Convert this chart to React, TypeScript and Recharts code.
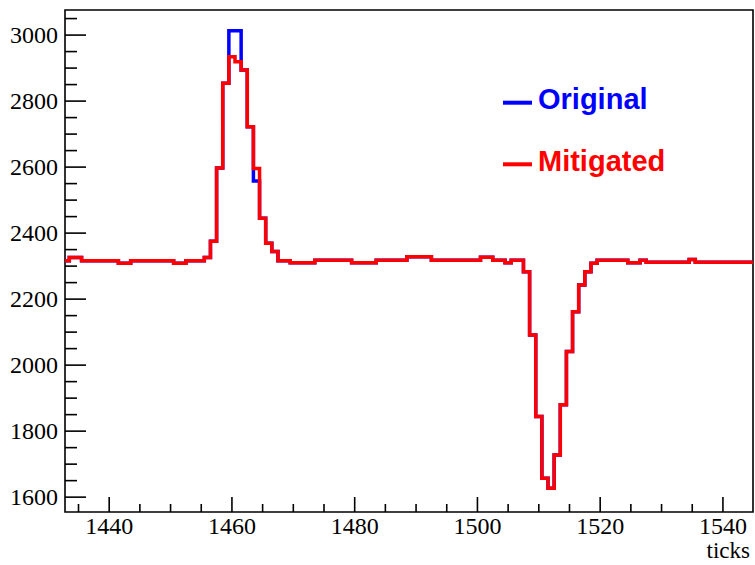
// @ts-nocheck
import React from 'react';
import { LineChart, Line, XAxis, YAxis, Legend, ReferenceArea } from 'recharts';

// histogram bins are 1 tick wide, centred on integers; first bin = 1433
const firstBin = 1433;

// Mitigated waveform, bins 1433 .. 1545
const mitigated = [
  2316, 2326, 2326, 2316, 2316, 2316, 2316,
  2316, 2316, 2309, 2309, 2316, 2316, 2316, 2316, 2316, 2316,
  2316, 2309, 2309, 2316, 2316, 2316, 2326, 2375, 2597, 2854,
  2934, 2919, 2894, 2722, 2596, 2445, 2369, 2344, 2316, 2316,
  2310, 2310, 2310, 2310, 2318, 2318, 2318, 2318, 2318, 2318,
  2310, 2310, 2310, 2310, 2318, 2318, 2318, 2318, 2318, 2328,
  2328, 2328, 2328, 2318, 2318, 2318, 2318, 2318, 2318, 2318,
  2318, 2327, 2327, 2318, 2318, 2310, 2318, 2318, 2283, 2091,
  1844, 1657, 1627, 1728, 1880, 2041, 2162, 2243, 2283, 2309,
  2318, 2318, 2318, 2318, 2318, 2310, 2310, 2318, 2312, 2312,
  2312, 2312, 2312, 2312, 2312, 2320, 2312, 2312, 2312, 2312,
  2312, 2312, 2312, 2312, 2312, 2312,
];

// Original only differs from Mitigated around the peak
const originalDiffs = { 1460: 3013, 1461: 3013, 1464: 2558 };
const original = mitigated.map((v, i) => originalDiffs[firstBin + i] ?? v);

const seriesNames = ['Original', 'Mitigated'];
const seriesColors = ['#0000ff', '#ff0000'];

const xMajor = [1440, 1460, 1480, 1500, 1520, 1540];
const yMajor = [1600, 1800, 2000, 2200, 2400, 2600, 2800, 3000];
const xTicks = Array.from({ length: 22 }, (_, i) => 1435 + i * 5);
const yTicks = Array.from({ length: 30 }, (_, i) => 1600 + i * 50);

const xDomain = [1432.8, 1544.9];
const yDomain = [1555, 3076];

// step points at the left bin edges, plus a closing point
const chartData = mitigated.map((m, i) => ({
  edge: firstBin + i - 0.5,
  Original: original[i],
  Mitigated: m,
}));
chartData.push({
  edge: firstBin + mitigated.length - 0.5,
  Original: original[original.length - 1],
  Mitigated: mitigated[mitigated.length - 1],
});

const serifStyle = { fontFamily: "'Liberation Serif', 'DejaVu Serif', serif", fontSize: 24 };
const sans = "'Liberation Sans', Arial, sans-serif";

const XTick = ({ x, y, payload }) => {
  const major = xMajor.includes(payload.value);
  return (
    <g>
      <line x1={x} x2={x} y1={y} y2={y - (major ? 15 : 8)} stroke="#000" strokeWidth={1.6} />
      {major && (
        <text x={x} y={y + 22} textAnchor="middle" style={serifStyle} fill="#000">
          {payload.value}
        </text>
      )}
    </g>
  );
};

const YTick = ({ x, y, payload }) => {
  const major = yMajor.includes(payload.value);
  return (
    <g>
      <line x1={x} x2={x + (major ? 21 : 12)} y1={y} y2={y} stroke="#000" strokeWidth={1.6} />
      {major && (
        <text x={x - 7} y={y + 8} textAnchor="end" style={serifStyle} fill="#000">
          {payload.value}
        </text>
      )}
    </g>
  );
};

const renderLegend = () => (
  <svg width={755} height={565} style={{ display: 'block' }}>
    {seriesNames.map((name, i) => {
      const y = 102.7 + i * 61.6;
      return (
        <g key={name}>
          <line x1={503} x2={532} y1={y} y2={y} stroke={seriesColors[i]} strokeWidth={4} />
          <text x={538} y={y + 6.3} fill={seriesColors[i]} style={{ fontFamily: sans, fontWeight: 'bold', fontSize: 29 }}>
            {name}
          </text>
        </g>
      );
    })}
    <text x={750} y={558} textAnchor="end" fill="#000" style={{ ...serifStyle, fontSize: 23 }}>
      ticks
    </text>
  </svg>
);

export default function App() {
  return (
    <div style={{ position: 'absolute', left: 0, top: 0, background: '#fff' }}>
      <LineChart width={755} height={565} data={chartData} margin={{ top: 10, right: 2, bottom: 0, left: 0 }}>
        <XAxis
          dataKey="edge"
          type="number"
          domain={xDomain}
          allowDataOverflow
          ticks={xTicks}
          interval={0}
          tick={XTick}
          tickLine={false}
          axisLine={false}
          tickSize={0}
          tickMargin={0}
          height={53}
        />
        <YAxis
          type="number"
          domain={yDomain}
          allowDataOverflow
          ticks={yTicks}
          interval={0}
          tick={YTick}
          tickLine={false}
          axisLine={false}
          tickSize={0}
          tickMargin={0}
          width={65}
        />
        <ReferenceArea x1={xDomain[0]} x2={xDomain[1]} y1={yDomain[0]} y2={yDomain[1]} fill="none" fillOpacity={0} stroke="#000" strokeWidth={1.6} />
        <Line
          dataKey="Original"
          type="stepAfter"
          stroke={seriesColors[0]}
          strokeWidth={3.5}
          strokeLinejoin="miter"
          dot={false}
          activeDot={false}
          isAnimationActive={false}
        />
        <Line
          dataKey="Mitigated"
          type="stepAfter"
          stroke={seriesColors[1]}
          strokeWidth={3.5}
          strokeLinejoin="miter"
          dot={false}
          activeDot={false}
          isAnimationActive={false}
        />
        <Legend
          content={renderLegend}
          layout="horizontal"
          verticalAlign="middle"
          align="center"
          wrapperStyle={{ left: 0, top: 0, width: 755, height: 565, pointerEvents: 'none' }}
        />
      </LineChart>
    </div>
  );
}
